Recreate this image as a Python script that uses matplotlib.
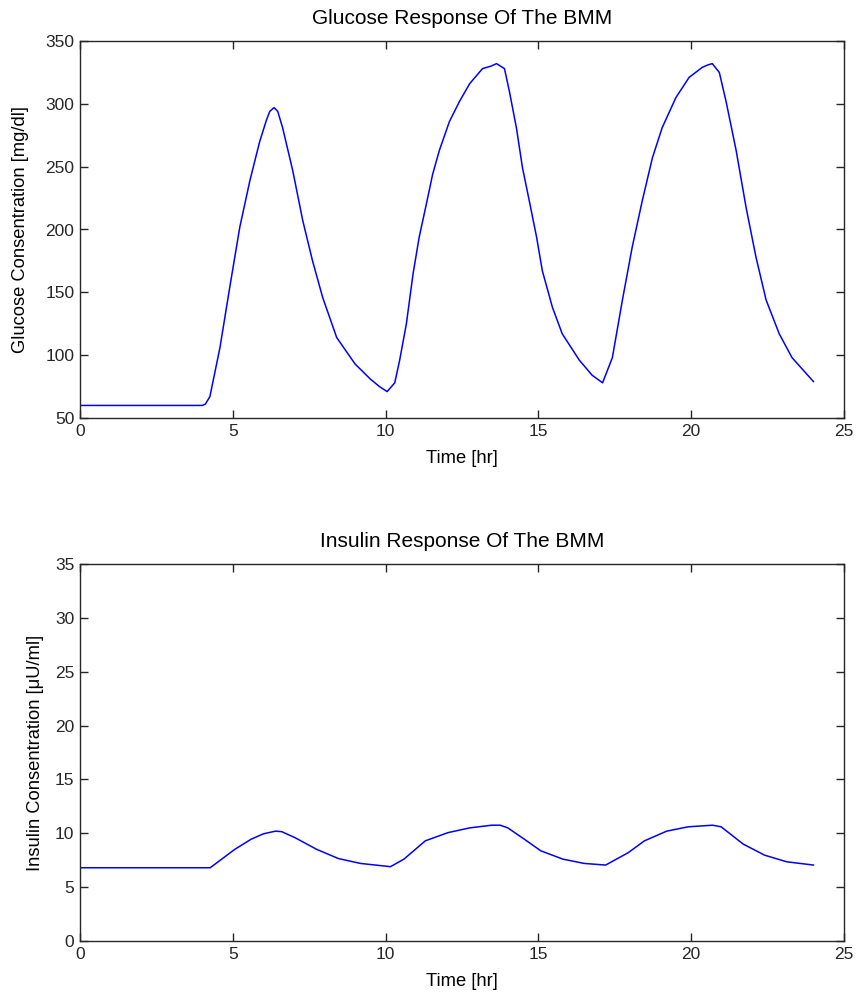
import matplotlib
matplotlib.use("Agg")
import matplotlib.pyplot as plt

# ---- data ----
glucose_t = [0, 4.0, 4.1, 4.25, 4.58, 4.9, 5.23, 5.56, 5.88, 6.1, 6.21, 6.35, 6.47, 6.63, 6.96, 7.29,
             7.61, 7.94, 8.4, 9.0, 9.5, 9.8, 10.05, 10.3, 10.46, 10.68, 10.9, 11.1, 11.34,
             11.54, 11.76, 12.09, 12.42, 12.75, 13.17, 13.45, 13.63, 13.89, 14.05, 14.28, 14.48,
             14.7, 14.94, 15.13, 15.46, 15.78, 16.34, 16.76, 17.1, 17.42, 17.75, 18.07,
             18.4, 18.73, 19.05, 19.5, 19.93, 20.36, 20.55, 20.69, 20.92, 21.14, 21.47, 21.8,
             22.12, 22.45, 22.88, 23.3, 24.0]
glucose = [60, 60, 61, 67, 106, 154, 202, 239, 270, 287, 294, 297, 294, 281, 247, 207,
           175, 146, 114, 93, 81, 75, 71, 78, 96, 125, 165, 194, 221,
           244, 263, 286, 302, 316, 328, 330, 332, 328, 310, 281, 249,
           223, 194, 167, 138, 117, 96, 84, 78, 98, 144, 186,
           223, 257, 281, 305, 321, 329, 331, 332, 325, 302, 263, 217,
           178, 144, 117, 98, 79]

insulin_t = [0, 4.26, 5.06, 5.6, 6.0, 6.4, 6.6, 7.03, 7.75, 8.46, 9.18, 10.16, 10.6, 11.3,
             12.04, 12.75, 13.47, 13.75, 14.0, 14.54, 15.08, 15.8, 16.5, 17.2, 17.94,
             18.47, 19.2, 19.9, 20.7, 20.98, 21.7, 22.4, 23.13, 24.0]
insulin = [6.8, 6.8, 8.5, 9.45, 9.95, 10.2, 10.15, 9.6, 8.5, 7.65, 7.2, 6.9, 7.6, 9.3,
           10.06, 10.5, 10.75, 10.75, 10.5, 9.45, 8.37, 7.6, 7.2, 7.05, 8.2,
           9.3, 10.2, 10.6, 10.75, 10.6, 9.0, 7.97, 7.35, 7.05]

x_ticks = [0, 5, 10, 15, 20, 25]
g_ticks = [50, 100, 150, 200, 250, 300, 350]
i_ticks = [0, 5, 10, 15, 20, 25, 30, 35]

plt.rcParams['font.family'] = ['Liberation Sans', 'DejaVu Sans']

fs_tick = 12.5
fs_label = 13.2
fs_title = 15

fig = plt.figure(figsize=(8.59, 9.96), dpi=100)
ax1 = fig.add_axes([80/859, 1-418/996, (844-80)/859, (418-41)/996])
ax2 = fig.add_axes([80/859, 1-941/996, (844-80)/859, (941-564)/996])

def style(ax):
    ax.tick_params(direction='in', top=True, right=True, length=6, width=1,
                   labelsize=fs_tick, colors='#262626', pad=4)
    for s in ax.spines.values():
        s.set_color('#262626')
        s.set_linewidth(1)

ax1.plot(glucose_t, glucose, color='#0000ff', lw=1.1)
ax1.set_xlim(0, 25)
ax1.set_ylim(50, 350)
ax1.set_xticks(x_ticks)
ax1.set_yticks(g_ticks)
ax1.set_xlabel('Time [hr]', fontsize=fs_label, labelpad=8)
ax1.set_ylabel('Glucose Consentration [mg/dl]', fontsize=fs_label, labelpad=12)
ax1.set_title('Glucose Response Of The BMM', fontsize=fs_title, pad=12)
style(ax1)

ax2.plot(insulin_t, insulin, color='#0000ff', lw=1.1)
ax2.set_xlim(0, 25)
ax2.set_ylim(0, 35)
ax2.set_xticks(x_ticks)
ax2.set_yticks(i_ticks)
ax2.set_xlabel('Time [hr]', fontsize=fs_label, labelpad=8)
ax2.set_ylabel('Insulin Consentration [μU/ml]', fontsize=fs_label, labelpad=8)
ax2.set_title('Insulin Response Of The BMM', fontsize=fs_title, pad=12)
style(ax2)

fig.savefig('out.png', dpi=100)
